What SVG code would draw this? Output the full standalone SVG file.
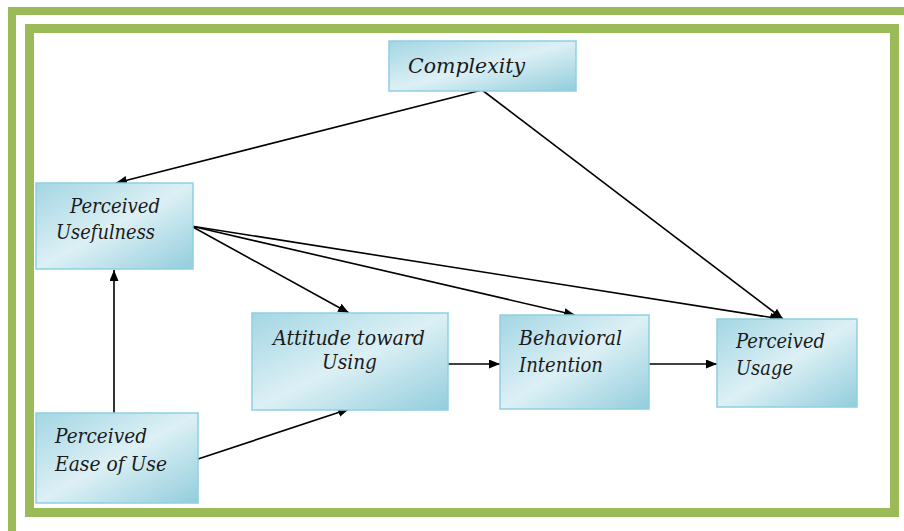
<svg xmlns="http://www.w3.org/2000/svg" width="904" height="531" viewBox="0 0 904 531">
<defs>
<linearGradient id="g" x1="0" y1="0" x2="1" y2="1">
<stop offset="0" stop-color="#a3d6e3"/>
<stop offset="0.5" stop-color="#dcf0f5"/>
<stop offset="1" stop-color="#92cddc"/>
</linearGradient>
<marker id="ah" markerWidth="12" markerHeight="10" refX="11" refY="4.5" orient="auto" markerUnits="userSpaceOnUse">
<path d="M0,0 L11,4.5 L0,9 Z" fill="#000"/>
</marker>
<style>
.frame{fill:none;stroke:#9bbb59}
.box{fill:url(#g);stroke:#8fd0e2;stroke-width:1.5}
.t{font-family:"DejaVu Serif",serif;font-style:italic;font-size:20px;fill:#1a1a1a}
.c{fill:none;stroke:#000;stroke-width:1.6;marker-end:url(#ah)}
</style>
</defs>
<rect width="904" height="531" fill="#fff"/>
<rect class="frame" x="12" y="11" width="900" height="530" stroke-width="8"/>
<rect class="frame" x="29.5" y="28.5" width="865" height="484" stroke-width="9"/>
<g id="connectors">
<line class="c" x1="482" y1="90" x2="116" y2="183"/>
<line class="c" x1="482" y1="90" x2="783" y2="319"/>
<line class="c" x1="191" y1="226" x2="349" y2="313"/>
<line class="c" x1="191" y1="226" x2="575" y2="315"/>
<line class="c" x1="191" y1="226" x2="781" y2="319"/>
<line class="c" x1="114" y1="413" x2="114" y2="270"/>
<line class="c" x1="198" y1="459" x2="349" y2="409"/>
<line class="c" x1="448" y1="364" x2="500" y2="364"/>
<line class="c" x1="649" y1="364" x2="717" y2="364"/>
</g>
<g id="complexity">
<rect class="box" x="389" y="41" width="187" height="50"/>
<text class="t" x="408" y="73" textLength="117" lengthAdjust="spacingAndGlyphs">Complexity</text>
</g>
<g id="perceived-usefulness">
<rect class="box" x="36" y="183" width="157" height="86"/>
<text class="t" x="70" y="213" textLength="90" lengthAdjust="spacingAndGlyphs">Perceived</text>
<text class="t" x="56" y="239" textLength="99" lengthAdjust="spacingAndGlyphs">Usefulness</text>
</g>
<g id="perceived-ease-of-use">
<rect class="box" x="36" y="413" width="162" height="90"/>
<text class="t" x="55" y="443" textLength="92" lengthAdjust="spacingAndGlyphs">Perceived</text>
<text class="t" x="55" y="471" textLength="112" lengthAdjust="spacingAndGlyphs">Ease of Use</text>
</g>
<g id="attitude">
<rect class="box" x="252" y="313" width="196" height="97"/>
<text class="t" x="273" y="345" textLength="152" lengthAdjust="spacingAndGlyphs">Attitude toward</text>
<text class="t" x="322" y="369" textLength="55" lengthAdjust="spacingAndGlyphs">Using</text>
</g>
<g id="behavioral-intention">
<rect class="box" x="500" y="315" width="149" height="94"/>
<text class="t" x="519" y="345" textLength="103" lengthAdjust="spacingAndGlyphs">Behavioral</text>
<text class="t" x="519" y="372" textLength="84" lengthAdjust="spacingAndGlyphs">Intention</text>
</g>
<g id="perceived-usage">
<rect class="box" x="717" y="319" width="140" height="88"/>
<text class="t" x="736" y="348" textLength="89" lengthAdjust="spacingAndGlyphs">Perceived</text>
<text class="t" x="736" y="375" textLength="57" lengthAdjust="spacingAndGlyphs">Usage</text>
</g>
</svg>
